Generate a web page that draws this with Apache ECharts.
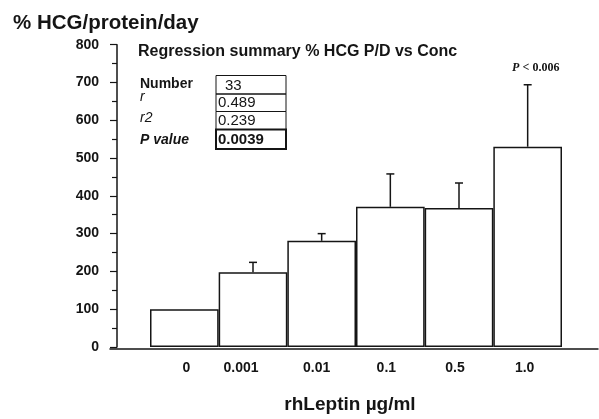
<!DOCTYPE html>
<html>
<head>
<meta charset="utf-8">
<script src="https://cdn.jsdelivr.net/npm/echarts@6/dist/echarts.min.js"></script>
<style>
html,body{margin:0;padding:0;background:#fff;}
#chart{width:599px;height:419px;}
</style>
</head>
<body>
<div id="chart"></div>
<script>
// ---- data ----
const categories = ['0', '0.001', '0.01', '0.1', '0.5', '1.0'];
const meanValues = [100, 198, 281, 371, 368, 530];
const errorValues = [0, 26, 19, 87, 66, 164];
const yMin = 0, yMax = 800, yInterval = 100;
const tableLabels = ['Number', 'r', 'r2', 'P value'];
const tableValues = ['33', '0.489', '0.239', '0.0039'];
const noteCategory = '1.0';
const noteText = '< 0.006';

// ---- style ----
const SANS = '"Liberation Sans", Arial, Helvetica, sans-serif';
const SERIF = '"Liberation Serif", "Times New Roman", serif';
const INK = '#151515';
const labelShift = [2, -12, -5, -4, -4, -3];

const rich = {};
labelShift.forEach((d, i) => {
  rich['s' + i] = {
    fontFamily: SANS, fontWeight: 'bold', fontSize: 14, color: INK,
    padding: d >= 0 ? [0, 0, 0, 2 * d] : [0, -2 * d, 0, 0]
  };
});

const errData = categories.map((c, i) => [i, meanValues[i], meanValues[i] + errorValues[i]])
  .filter((d, i) => errorValues[i] > 0);

const chart = echarts.init(document.getElementById('chart'), null, {renderer: 'canvas'});

// table graphics
const rowTops = [75.5, 94, 111.5, 129.5, 149];
const labelMid = [84, 97, 118, 140];
const valueMid = [86, 103, 121, 140];
const graphics = [
  {type: 'text', left: 138, top: 44, style: {text: 'Regression summary % HCG P/D vs Conc', font: 'bold 16px ' + SANS, fill: INK}}
];
tableLabels.forEach((t, i) => {
  const bold = (i === 0 || i === 3);
  const ital = (i > 0);
  graphics.push({type: 'text', x: 140, y: labelMid[i], style: {
    text: t, font: (ital ? 'italic ' : '') + (bold ? 'bold ' : '') + '14px ' + SANS,
    fill: INK, verticalAlign: 'middle'}});
});
for (let i = 0; i < 4; i++) {
  graphics.push({type: 'rect', shape: {x: 216, y: rowTops[i], width: 70, height: rowTops[i + 1] - rowTops[i]},
    style: {fill: 'none', stroke: INK, lineWidth: i === 3 ? 2 : 1}});
  graphics.push({type: 'text', x: i === 0 ? 225 : 218, y: valueMid[i], style: {
    text: tableValues[i], font: (i === 3 ? 'bold ' : '') + '15px ' + SANS, fill: INK, verticalAlign: 'middle'}});
}

const option = {
  animation: false,
  backgroundColor: '#fff',
  title: {
    text: '% HCG/protein/day', left: 8, top: 8,
    textStyle: {fontFamily: SANS, fontWeight: 'bold', fontSize: 20.5, color: INK}
  },
  graphic: graphics,
  grid: [
    {left: 150, right: 37, top: 44.7, bottom: 70.3},
    {left: 110, right: 1, top: 44.7, bottom: 70.3}
  ],
  xAxis: [
    {
      type: 'category', gridIndex: 0, data: categories,
      boundaryGap: true,
      axisLine: {show: false},
      axisTick: {show: false},
      axisLabel: {
        interval: 0,
        margin: 14,
        formatter: (v, i) => '{s' + i + '|' + v + '}',
        rich: rich
      },
      name: 'rhLeptin µg/ml', nameLocation: 'middle', nameGap: 48,
      nameTextStyle: {fontFamily: SANS, fontWeight: 'bold', fontSize: 19, color: INK, padding: [0, 12, 0, 0]}
    },
    {
      type: 'value', gridIndex: 1, min: 0, max: 1,
      axisLine: {show: true, lineStyle: {color: INK, width: 1.5}},
      axisTick: {show: false}, axisLabel: {show: false}, splitLine: {show: false}
    }
  ],
  yAxis: [
    {
      type: 'value', gridIndex: 0, min: yMin, max: yMax, interval: yInterval,
      offset: 33,
      axisLine: {show: true, lineStyle: {color: INK, width: 1.5}},
      axisTick: {show: true, length: 7, lineStyle: {color: INK, width: 1.2}},
      minorTick: {show: true, splitNumber: 2, length: 5, lineStyle: {color: INK, width: 1.2}},
      splitLine: {show: false},
      axisLabel: {margin: 18, fontFamily: SANS, fontWeight: 'bold', fontSize: 14, color: INK}
    },
    {type: 'value', gridIndex: 1, min: 0, max: 1, show: false}
  ],
  series: [
    {
      type: 'bar', xAxisIndex: 0, yAxisIndex: 0,
      data: meanValues,
      barWidth: '100%',
      itemStyle: {color: '#fff', borderColor: INK, borderWidth: 1.5},
      z: 2
    },
    {
      type: 'custom', xAxisIndex: 0, yAxisIndex: 0,
      data: errData,
      encode: {x: 0, y: [1, 2]},
      z: 3,
      renderItem: function (params, api) {
        const idx = api.value(0);
        const base = api.coord([idx, api.value(1)]);
        const top = api.coord([idx, api.value(2)]);
        const children = [
          {type: 'line', shape: {x1: base[0], y1: base[1], x2: top[0], y2: top[1]},
            style: {stroke: INK, lineWidth: 1.5}},
          {type: 'line', shape: {x1: top[0] - 4, y1: top[1], x2: top[0] + 4, y2: top[1]},
            style: {stroke: INK, lineWidth: 1.5}}
        ];
        if (categories[idx] === noteCategory) {
          children.push({type: 'text', x: top[0] + 8, y: top[1] - 17, style: {
            text: '{p|P} {t|' + noteText + '}', align: 'center', verticalAlign: 'middle',
            rich: {
              p: {fontFamily: SERIF, fontStyle: 'italic', fontWeight: 'bold', fontSize: 12, fill: INK},
              t: {fontFamily: SERIF, fontWeight: 'bold', fontSize: 12, fill: INK}
            }}});
        }
        return {type: 'group', children: children};
      }
    }
  ]
};
chart.setOption(option);
</script>
</body>
</html>
